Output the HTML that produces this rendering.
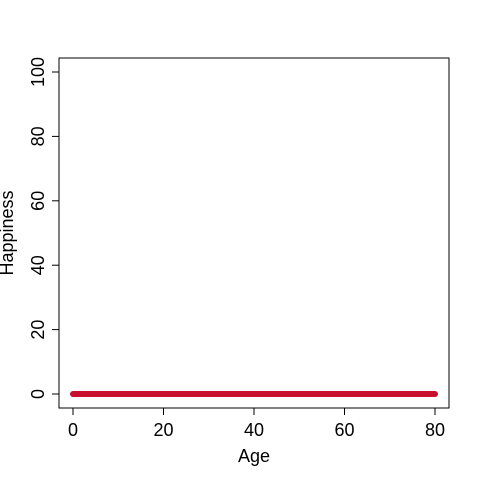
<!DOCTYPE html>
<html><head><meta charset="utf-8"><style>
body{margin:0;background:#fff}
svg{display:block;font-family:"Liberation Sans",Arial,sans-serif}
</style></head><body>
<svg id="chart" width="480" height="480">
<rect x="59" y="58" width="390" height="350" fill="none" stroke="#000" stroke-width="1"/>
<g id="axes"></g>
<g id="series"></g>
<text x="254" y="462" text-anchor="middle" font-size="18">Age</text>
<text transform="translate(13,233) rotate(-90)" text-anchor="middle" font-size="18">Happiness</text>
</svg>
<script>
const ages = [0,10,20,30,40,50,60,70,80];
const happiness = [0,0,0,0,0,0,0,0,0];
const xTicks = [0,20,40,60,80];
const yTicks = [0,20,40,60,80,100];
const NS="http://www.w3.org/2000/svg";
const xs=v=>73+v*(435-73)/80;
const ys=v=>394-v*(394-72)/100;
const axes=document.getElementById('axes');
const series=document.getElementById('series');
function mk(t,a,p){const e=document.createElementNS(NS,t);for(const k in a)e.setAttribute(k,a[k]);p.appendChild(e);return e;}
const xl=mk('line',{x1:xs(xTicks[0]),x2:xs(xTicks[xTicks.length-1]),y1:408,y2:408,stroke:'#000'},axes);


xTicks.forEach(t=>{
 const l=mk('line',{x1:xs(t),x2:xs(t),y1:408,y2:415,stroke:'#000'},axes);
 
 
 const tx=mk('text',{x:xs(t),y:436,'text-anchor':'middle','font-size':18},axes);tx.textContent=t;
 
 
});
const yl=mk('line',{x1:59,x2:59,y1:ys(yTicks[0]),y2:ys(yTicks[yTicks.length-1]),stroke:'#000'},axes);


yTicks.forEach(t=>{
 const l=mk('line',{x1:52,x2:59,y1:ys(t),y2:ys(t),stroke:'#000'},axes);
 
 
 const tx=mk('text',{transform:`translate(44,${ys(t)}) rotate(-90)`,'text-anchor':'middle','font-size':18},axes);tx.textContent=t;
 
 
});
const pl=mk('polyline',{points:ages.map((a,i)=>xs(a)+','+ys(happiness[i])).join(' '),fill:'none',stroke:'#c8102e','stroke-width':6,'stroke-linecap':'round','stroke-linejoin':'round'},series);


</script>
</body></html>
